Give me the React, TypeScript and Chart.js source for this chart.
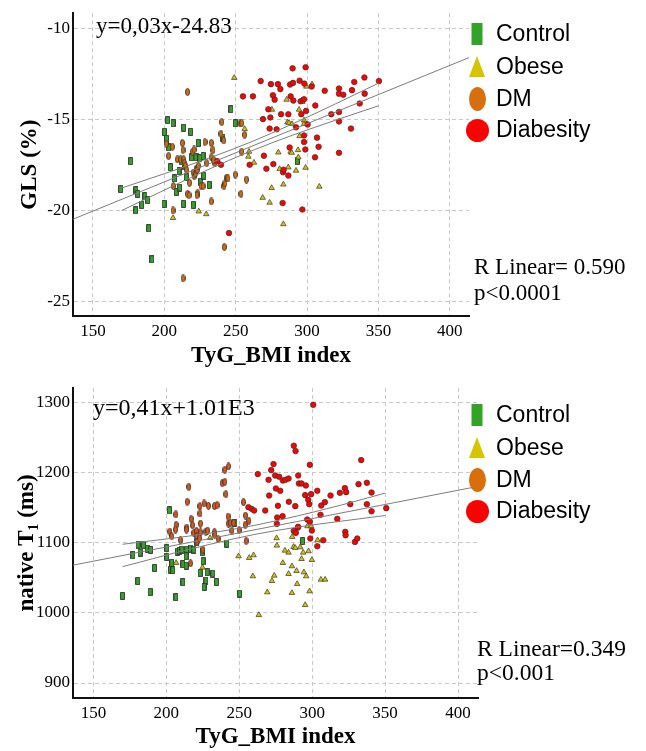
import React, { useEffect, useRef } from 'react';
import { Chart, registerables } from 'chart.js';
Chart.register(...registerables);

const FONT_SERIF = "'Liberation Serif', 'Times New Roman', Times, serif";
const FONT_SANS = "'Liberation Sans', Arial, Helvetica, sans-serif";

// ---------- shared ----------
const groupNames = ['Control', 'Obese', 'DM', 'Diabesity'];
const xTicks = [150, 200, 250, 300, 350, 400];

// ---------- panel A : GLS (%) ----------
const glsTicks = [-25, -20, -15, -10];
const glsControl: [number, number][] = [
  [169.4, -18.83], [176.4, -17.29], [180.1, -18.89], [181.3, -19.09], [179.9, -20.0], [184.1, -19.69],
  [186.4, -19.21], [188.3, -19.44], [189.0, -20.98], [191.3, -22.69], [199.8, -19.64], [200.0, -15.68],
  [201.6, -16.06], [202.3, -15.04], [203.0, -16.54], [204.2, -17.63], [206.1, -15.21], [207.0, -18.24],
  [208.4, -18.98], [210.3, -17.85], [210.7, -18.74], [211.7, -17.29], [213.5, -15.45], [213.3, -19.64],
  [214.2, -17.58], [215.4, -18.17], [218.4, -15.68], [219.1, -17.08], [220.3, -19.69], [222.2, -17.08],
  [223.8, -16.29], [224.8, -17.13], [225.5, -18.42], [227.1, -17.01], [227.6, -18.08], [231.5, -18.6],
  [241.1, -16.0], [246.7, -14.44], [249.7, -15.21], [293.2, -17.29],
];
const glsObese: [number, number][] = [
  [249.0, -12.71], [206.1, -20.41], [224.1, -20.05], [229.4, -20.2], [256.3, -15.52], [259.3, -16.77],
  [258.9, -17.04], [262.8, -17.37], [268.9, -19.3], [273.8, -19.57], [275.2, -18.76], [275.4, -14.46],
  [279.9, -16.81], [280.8, -17.72], [283.4, -18.57], [283.4, -20.75], [285.7, -13.91], [286.2, -15.16],
  [286.9, -17.63], [287.4, -15.18], [288.5, -16.77], [289.2, -16.83], [289.5, -15.25], [293.7, -16.68],
  [293.9, -17.08], [292.3, -17.81], [294.4, -14.46], [294.8, -15.91], [296.2, -13.96], [296.7, -14.03],
  [297.9, -15.05], [297.9, -15.25], [299.0, -17.65], [299.5, -13.19], [303.5, -13.06], [308.6, -18.69],
];
const glsDM: [number, number][] = [
  [201.4, -16.33], [203.0, -17.01], [205.6, -16.5], [206.3, -18.66], [206.1, -20.0], [209.1, -17.19],
  [211.4, -17.19], [212.6, -16.29], [213.1, -16.68], [213.5, -17.19], [214.0, -17.4], [214.7, -17.54],
  [215.6, -17.76], [216.3, -13.49], [216.3, -19.09], [217.7, -18.48], [217.3, -19.16], [219.8, -16.77],
  [220.8, -16.65], [220.3, -17.92], [221.0, -18.12], [221.7, -17.97], [222.2, -17.71], [222.4, -17.8],
  [223.1, -17.76], [223.4, -19.05], [222.9, -19.16], [223.8, -17.54], [225.7, -18.66], [227.1, -18.66],
  [228.5, -16.24], [229.7, -17.4], [232.9, -16.29], [232.9, -17.08], [232.9, -19.5], [234.1, -16.68],
  [235.3, -17.4], [234.6, -17.22], [213.1, -23.73], [240.2, -15.14], [239.7, -15.79], [241.6, -16.15],
  [241.8, -18.66], [242.5, -18.51], [243.4, -18.21], [244.6, -18.24], [249.7, -18.03], [253.0, -15.21],
  [254.2, -15.21], [254.2, -16.77], [256.3, -15.84], [257.5, -18.3], [253.7, -19.09], [242.0, -22.01],
];
const glsDiabesity: [number, number][] = [
  [237.1, -17.29], [239.7, -17.49], [245.3, -21.24], [255.1, -13.73], [259.8, -17.49], [262.1, -13.73],
  [267.5, -12.89], [269.1, -14.98], [269.8, -16.99], [271.5, -17.71], [272.9, -14.44], [274.3, -14.89],
  [274.7, -13.06], [273.8, -15.5], [276.1, -13.67], [276.4, -17.45], [277.3, -13.91], [278.7, -15.54],
  [279.6, -13.06], [281.8, -14.71], [281.3, -13.33], [282.9, -19.59], [283.2, -17.9], [283.6, -17.76],
  [286.9, -18.08], [286.9, -14.71], [287.8, -16.54], [288.1, -13.08], [288.5, -13.73], [289.9, -12.19],
  [290.2, -12.99], [290.4, -13.96], [292.3, -15.43], [294.8, -12.87], [295.5, -14.0], [296.0, -14.71],
  [296.7, -19.95], [297.9, -15.88], [297.9, -16.24], [298.1, -13.03], [298.8, -16.65], [299.0, -12.13],
  [297.9, -13.89], [299.3, -14.53], [300.4, -15.27], [303.2, -13.19], [305.8, -14.23], [305.6, -17.08],
  [307.0, -16.0], [308.1, -16.5], [312.4, -13.42], [317.0, -14.71], [322.4, -13.3], [322.4, -13.58],
  [322.4, -14.59], [322.4, -15.11], [322.4, -16.83], [325.4, -13.64], [330.8, -15.5], [331.5, -13.39],
  [333.1, -12.94], [336.9, -14.12], [340.2, -12.69], [340.4, -13.58], [350.4, -12.89],
];
const glsFit: [number, number][] = [[136, -20.48], [413.5, -11.6]];
const glsUpper: [number, number][] = [
  [170, -18.77], [200, -17.98], [230, -17.16], [260, -16.26], [290, -15.24], [320, -14.14], [350, -13.01],
];
const glsLower: [number, number][] = [
  [170, -20.01], [200, -18.88], [230, -17.78], [260, -16.76], [290, -15.86], [320, -15.04], [350, -14.25],
];

// ---------- panel B : native T1 (ms) ----------
const t1Ticks = [900, 1000, 1100, 1200, 1300];
const t1Control: [number, number][] = [
  [202.1, 1146.2], [180.6, 1097.6], [184.3, 1096.7], [187.0, 1091.9], [189.1, 1090.0], [177.0, 1082.4],
  [182.0, 1086.2], [191.9, 1064.3], [180.4, 1045.7], [188.9, 1030.0], [169.9, 1024.3], [206.5, 1022.4],
  [200.3, 1092.4], [200.3, 1080.0], [203.5, 1069.5], [202.8, 1061.9], [204.4, 1061.0], [207.6, 1087.6],
  [209.0, 1088.6], [210.6, 1090.5], [214.0, 1090.5], [216.6, 1091.9], [218.8, 1090.5], [220.9, 1100.9],
  [211.3, 1069.5], [213.6, 1067.6], [213.6, 1081.0], [224.6, 1086.7], [225.2, 1073.8], [223.2, 1057.1],
  [228.0, 1058.1], [231.9, 1056.2], [227.1, 1046.2], [234.4, 1044.3], [225.9, 1037.1], [211.3, 1043.8],
  [241.5, 1099.0], [247.0, 1128.6], [250.2, 1027.6], [293.4, 1102.4], [203.7, 1071.4],
];
const t1Obese: [number, number][] = [
  [206.7, 1071.4], [230.0, 1107.1], [224.8, 1064.8], [249.5, 1081.0], [256.8, 1078.6], [259.8, 1082.4],
  [259.3, 1052.4], [263.4, 997.1], [269.2, 1029.5], [272.4, 1045.7], [274.0, 1053.3], [275.6, 1106.7],
  [275.8, 1096.2], [279.9, 1071.4], [281.3, 1089.0], [283.8, 1086.2], [283.8, 1055.7], [286.1, 1066.7],
  [286.1, 1028.6], [286.3, 1108.6], [287.2, 1094.3], [288.4, 1092.9], [289.3, 1060.0], [289.7, 1041.4],
  [291.8, 1093.8], [292.7, 1077.1], [293.8, 1086.2], [294.3, 1058.1], [295.2, 1011.4], [295.9, 1052.4],
  [296.8, 1123.8], [297.5, 1088.1], [298.2, 1031.0], [299.3, 1123.8], [299.8, 1075.7], [303.7, 1103.8],
  [306.0, 1047.6], [308.9, 1047.6],
];
const t1DM: [number, number][] = [
  [215.4, 1180.0], [214.3, 1158.6], [206.5, 1140.5], [206.7, 1125.7], [206.3, 1119.0], [202.4, 1116.2],
  [203.7, 1109.5], [214.0, 1121.9], [213.8, 1119.0], [217.0, 1134.3], [217.9, 1125.2], [218.8, 1114.3],
  [220.7, 1117.1], [220.9, 1109.5], [223.0, 1152.4], [223.0, 1141.9], [223.4, 1127.6], [223.4, 1115.2],
  [221.1, 1101.9], [222.7, 1106.7], [225.9, 1156.2], [227.1, 1116.2], [228.9, 1152.9], [228.2, 1117.6],
  [233.0, 1152.4], [234.8, 1153.8], [233.0, 1115.2], [233.2, 1111.4], [235.5, 1105.7], [238.3, 1185.2],
  [240.1, 1187.1], [240.1, 1204.3], [242.6, 1209.0], [240.8, 1169.5], [242.4, 1137.6], [242.6, 1127.6],
  [244.0, 1128.6], [244.9, 1117.6], [246.1, 1128.6], [249.9, 1118.1], [252.9, 1158.1], [254.3, 1139.0],
  [254.1, 1125.7], [254.7, 1102.9], [256.6, 1131.4], [209.7, 1103.8], [216.6, 1070.9], [225.0, 1090.5],
];
const t1Diabesity: [number, number][] = [
  [262.7, 1198.1], [267.8, 1146.2], [270.1, 1190.0], [270.5, 1167.6], [271.9, 1203.8], [273.5, 1212.4],
  [275.1, 1177.6], [274.6, 1196.2], [275.8, 1127.1], [276.5, 1152.9], [276.0, 1136.2], [277.4, 1194.3],
  [278.1, 1174.3], [279.7, 1138.1], [279.9, 1189.0], [281.7, 1190.0], [283.8, 1191.9], [284.0, 1158.6],
  [287.4, 1238.6], [288.6, 1231.0], [288.4, 1152.4], [290.4, 1196.2], [290.9, 1184.8], [292.7, 1184.8],
  [295.7, 1181.9], [295.2, 1168.1], [290.2, 1121.9], [287.4, 1117.1], [288.8, 1114.3], [290.4, 1122.9],
  [296.6, 1133.3], [297.3, 1161.4], [298.4, 1211.4], [298.0, 1155.2], [298.4, 1130.5], [299.3, 1169.5],
  [299.8, 1117.6], [298.7, 1106.2], [303.5, 1174.3], [303.5, 1095.2], [305.7, 1140.0], [306.2, 1153.3],
  [307.6, 1103.8], [308.7, 1158.1], [312.6, 1167.6], [317.2, 1134.3], [319.0, 1171.4], [322.4, 1178.1],
  [323.3, 1172.4], [322.7, 1115.7], [322.9, 1110.9], [326.1, 1155.2], [329.3, 1101.4], [330.9, 1106.2],
  [331.8, 1183.8], [333.6, 1218.1], [337.5, 1185.7], [337.5, 1155.2], [340.7, 1171.9], [340.7, 1145.2],
  [350.8, 1149.5], [300.7, 1297.1], [256.3, 1150.9], [258.4, 1148.6], [260.2, 1146.2],
];
const t1Fit: [number, number][] = [[136, 1068.2], [414, 1180.7]];
const t1Upper: [number, number][] = [
  [170, 1098], [200, 1105.5], [230, 1114], [260, 1124.8], [290, 1138.5], [320, 1154], [350, 1171],
];
const t1Lower: [number, number][] = [
  [170, 1066], [200, 1082.5], [230, 1098], [260, 1111.8], [290, 1122.5], [320, 1131], [350, 1139],
];

// ---------- colours ----------
const C_CONTROL = '#33a228';
const C_OBESE = '#d6c400';
const C_DM = '#d86f0e';
const C_DM_B = '#e0561c';
const C_DIAB = '#ff0000';
const C_EDGE = '#333333';

function makeMarker(w: number, h: number, fill: string, shape: 'rect' | 'ellipse') {
  const c = document.createElement('canvas');
  c.width = w;
  c.height = h;
  const ctx = c.getContext('2d')!;
  ctx.fillStyle = fill;
  ctx.strokeStyle = C_EDGE;
  ctx.lineWidth = 0.9;
  ctx.beginPath();
  if (shape === 'rect') {
    ctx.rect(0.5, 0.5, w - 1, h - 1);
  } else {
    ctx.ellipse(w / 2, h / 2, w / 2 - 0.5, h / 2 - 0.5, 0, 0, Math.PI * 2);
  }
  ctx.fill();
  ctx.stroke();
  return c;
}

const toXY = (arr: [number, number][]) => arr.map(([x, y]) => ({ x, y }));

type Overlay = {
  equation: string;
  eqX: number;
  eqY: number;
  eqSize: number;
  stats: string[];
  statX: number;
  statY: number;
  statGap: number;
  statSize: number;
  legendY: number;
  legendColors: string[];
};

function overlayPlugin(o: Overlay) {
  return {
    id: 'overlayText',
    afterDraw(chart: any) {
      const ctx = chart.ctx as CanvasRenderingContext2D;
      ctx.save();
      ctx.fillStyle = '#000';
      ctx.textAlign = 'left';
      ctx.textBaseline = 'middle';
      ctx.font = `${o.eqSize}px ${FONT_SERIF}`;
      ctx.fillText(o.equation, o.eqX, o.eqY);
      ctx.font = `${o.statSize}px ${FONT_SERIF}`;
      o.stats.forEach((s, i) => ctx.fillText(s, o.statX, o.statY + i * o.statGap));

      // legend
      const gaps = [0, 33, 65, 96];
      const mx = 477;
      groupNames.forEach((name, i) => {
        const cy = o.legendY + gaps[i];
        ctx.fillStyle = o.legendColors[i];
        ctx.beginPath();
        if (i === 0) ctx.rect(mx - 5.5, cy - 11, 11, 22);
        else if (i === 1) {
          ctx.moveTo(mx, cy - 11);
          ctx.lineTo(mx + 8, cy + 10);
          ctx.lineTo(mx - 8, cy + 10);
          ctx.closePath();
        } else if (i === 2) ctx.ellipse(mx + 0.5, cy, 8.5, 12, 0, 0, Math.PI * 2);
        else ctx.arc(mx + 0.5, cy + 0.5, 11.5, 0, Math.PI * 2);
        ctx.fill();
        ctx.fillStyle = '#000';
        ctx.font = `23px ${FONT_SANS}`;
        ctx.fillText(name, 496, cy + 1);
      });
      ctx.restore();
    },
  };
}

function buildConfig(p: {
  control: [number, number][];
  obese: [number, number][];
  dm: [number, number][];
  diab: [number, number][];
  fit: [number, number][];
  upper: [number, number][];
  lower: [number, number][];
  dmColor: string;
  yTicks: number[];
  yMin: number;
  yMax: number;
  xMax: number;
  yTitle: string;
  yTitlePad: number;
  padding: { top: number; right: number };
  xAxisHeight: number;
  overlay: Overlay;
}) {
  const rectImg = makeMarker(5, 8, C_CONTROL, 'rect');
  const ellImg = makeMarker(5, 8, p.dmColor, 'ellipse');
  const lineDs = (data: [number, number][], curved: boolean) => ({
    type: 'scatter' as const,
    data: toXY(data),
    showLine: true,
    borderColor: '#7d7d7d',
    borderWidth: 1,
    pointRadius: 0,
    fill: false,
    cubicInterpolationMode: curved ? ('monotone' as const) : ('default' as const),
    order: 0,
  });
  return {
    type: 'scatter' as const,
    data: {
      datasets: [
        lineDs(p.fit, false),
        lineDs(p.upper, true),
        lineDs(p.lower, true),
        {
          label: groupNames[3],
          data: toXY(p.diab),
          pointStyle: 'circle',
          pointRadius: 2.8,
          backgroundColor: C_DIAB,
          borderColor: C_EDGE,
          borderWidth: 0.7,
          order: 1,
        },
        {
          label: groupNames[2],
          data: toXY(p.dm),
          pointStyle: ellImg,
          pointRadius: 3,
          order: 2,
        },
        {
          label: groupNames[1],
          data: toXY(p.obese),
          pointStyle: 'triangle',
          pointRadius: 3.2,
          backgroundColor: C_OBESE,
          borderColor: C_EDGE,
          borderWidth: 0.7,
          order: 3,
        },
        {
          label: groupNames[0],
          data: toXY(p.control),
          pointStyle: rectImg,
          pointRadius: 3,
          order: 4,
        },
      ],
    },
    options: {
      responsive: false,
      animation: false,
      devicePixelRatio: 1,
      layout: { padding: { left: 0, right: p.padding.right, top: p.padding.top, bottom: 0 } },
      plugins: { legend: { display: false }, tooltip: { enabled: false } },
      scales: {
        x: {
          type: 'linear',
          min: 136,
          max: p.xMax,
          afterBuildTicks: (scale: any) => {
            scale.ticks = xTicks.map((v) => ({ value: v }));
          },
          afterFit: (scale: any) => {
            scale.height = p.xAxisHeight;
          },
          ticks: {
            color: '#000',
            font: { family: FONT_SERIF, size: 17 },
            padding: 5,
            maxRotation: 0,
            callback: (v: any) => String(v),
          },
          grid: { color: '#c8c8c8', lineWidth: 1, drawTicks: false },
          border: { display: true, color: '#111', width: 2, dash: [4, 3] },
          title: {
            display: true,
            text: 'TyG_BMI index',
            color: '#000',
            font: { family: FONT_SERIF, size: 23, weight: 'bold' },
            padding: { top: 0, bottom: 0 },
          },
        },
        y: {
          type: 'linear',
          min: p.yMin,
          max: p.yMax,
          afterBuildTicks: (scale: any) => {
            scale.ticks = p.yTicks.map((v) => ({ value: v }));
          },
          afterFit: (scale: any) => {
            scale.width = 73;
          },
          ticks: {
            color: '#000',
            font: { family: FONT_SERIF, size: 17 },
            padding: 3,
            callback: (v: any) => String(v),
          },
          grid: { color: '#c8c8c8', lineWidth: 1, drawTicks: false },
          border: { display: true, color: '#111', width: 2, dash: [4, 3] },
          title: {
            display: true,
            text: p.yTitle,
            color: '#000',
            font: { family: FONT_SERIF, size: 23, weight: 'bold' },
            padding: { top: p.yTitlePad, bottom: 0 },
          },
        },
      },
    },
    plugins: [overlayPlugin(p.overlay)],
  };
}

export default function App() {
  const topRef = useRef<HTMLCanvasElement>(null);
  const botRef = useRef<HTMLCanvasElement>(null);

  useEffect(() => {
    const top = new Chart(
      topRef.current!,
      buildConfig({
        control: glsControl,
        obese: glsObese,
        dm: glsDM,
        diab: glsDiabesity,
        fit: glsFit,
        upper: glsUpper,
        lower: glsLower,
        dmColor: C_DM,
        yTicks: glsTicks,
        yMin: -25.8,
        yMax: -9.16,
        xMax: 413.5,
        yTitle: 'GLS (%)',
        yTitlePad: 16,
        padding: { top: 7, right: 177 },
        xAxisHeight: 54,
        overlay: {
          equation: 'y=0,03x-24.83',
          eqX: 96,
          eqY: 27,
          eqSize: 23,
          stats: ['R Linear= 0.590', 'p<0.0001'],
          statX: 474,
          statY: 268,
          statGap: 26,
          statSize: 23,
          legendY: 34,
          legendColors: [C_CONTROL, C_OBESE, C_DM, C_DIAB],
        },
      }) as any
    );
    const bot = new Chart(
      botRef.current!,
      buildConfig({
        control: t1Control,
        obese: t1Obese,
        dm: t1DM,
        diab: t1Diabesity,
        fit: t1Fit,
        upper: t1Upper,
        lower: t1Lower,
        dmColor: C_DM_B,
        yTicks: t1Ticks,
        yMin: 878.6,
        yMax: 1321,
        xMax: 413.7,
        yTitle: 'native T\u2081 (ms)',
        yTitlePad: 13,
        padding: { top: 18, right: 168 },
        xAxisHeight: 53,
        overlay: {
          equation: 'y=0,41x+1.01E3',
          eqX: 93,
          eqY: 39,
          eqSize: 24,
          stats: ['R Linear=0.349', 'p<0.001'],
          statX: 477,
          statY: 280,
          statGap: 24,
          statSize: 23.5,
          legendY: 45,
          legendColors: [C_CONTROL, C_OBESE, C_DM, C_DIAB],
        },
      }) as any
    );
    return () => {
      top.destroy();
      bot.destroy();
    };
  }, []);

  return (
    <div style={{ position: 'absolute', left: 0, top: 0, width: 646, height: 751, background: '#fff' }}>
      <canvas
        ref={topRef}
        width={646}
        height={370}
        style={{ position: 'absolute', left: 0, top: 0, width: 646, height: 370 }}
      />
      <canvas
        ref={botRef}
        width={646}
        height={381}
        style={{ position: 'absolute', left: 0, top: 370, width: 646, height: 381 }}
      />
    </div>
  );
}
